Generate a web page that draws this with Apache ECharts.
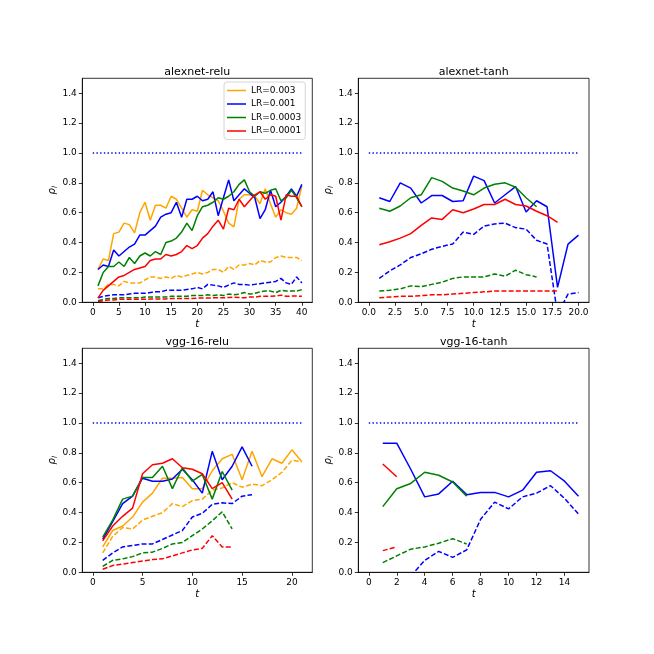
<!DOCTYPE html>
<html><head><meta charset="utf-8">
<script src="https://cdn.jsdelivr.net/npm/echarts@6/dist/echarts.min.js"></script>
<style>html,body{margin:0;padding:0;background:#fff}#c{width:654px;height:654px}</style>
</head><body><div id="c"></div>
<script>
const T = [1,2,3,4,5,6,7,8,9,10,11,12,13,14,15,16,17,18,19,20,21,22,23,24,25,26,27,28,29,30,31,32,33,34,35,36,37,38,39,40];
const LR_NAMES = ['LR=0.003','LR=0.001','LR=0.0003','LR=0.0001'];
const TITLES = ['alexnet-relu','alexnet-tanh','vgg-16-relu','vgg-16-tanh'];

// alexnet-relu
const arOrange = [0.22,0.29,0.28,0.46,0.47,0.53,0.52,0.465,0.60,0.67,0.55,0.65,0.65,0.63,0.71,0.69,0.63,0.57,0.62,0.61,0.75,0.72,0.70,0.68,0.61,0.53,0.505,0.69,0.72,0.72,0.71,0.66,0.76,0.66,0.57,0.62,0.60,0.59,0.63,0.78];
const arOrangeD = [0.09,0.09,0.12,0.12,0.11,0.14,0.13,0.13,0.13,0.15,0.17,0.17,0.16,0.17,0.16,0.18,0.17,0.18,0.19,0.20,0.19,0.20,0.22,0.22,0.20,0.24,0.22,0.25,0.25,0.26,0.25,0.28,0.27,0.27,0.30,0.31,0.30,0.30,0.30,0.28];
const arBlue = [0.22,0.25,0.24,0.35,0.31,0.34,0.37,0.39,0.45,0.45,0.48,0.51,0.57,0.59,0.60,0.67,0.57,0.69,0.69,0.71,0.68,0.69,0.74,0.58,0.70,0.82,0.68,0.72,0.76,0.73,0.70,0.56,0.62,0.75,0.64,0.67,0.71,0.76,0.71,0.79];
const arBlueD = [0.03,0.04,0.045,0.05,0.05,0.05,0.055,0.06,0.06,0.06,0.065,0.07,0.07,0.08,0.08,0.08,0.08,0.085,0.09,0.10,0.09,0.12,0.115,0.11,0.10,0.115,0.13,0.12,0.12,0.115,0.12,0.125,0.13,0.135,0.14,0.16,0.13,0.12,0.17,0.13];
const arGreen = [0.11,0.20,0.24,0.24,0.27,0.24,0.30,0.26,0.31,0.33,0.31,0.34,0.32,0.40,0.41,0.43,0.47,0.53,0.48,0.58,0.64,0.65,0.67,0.70,0.69,0.71,0.74,0.79,0.82,0.74,0.71,0.74,0.73,0.75,0.76,0.68,0.70,0.75,0.70,0.64];
const arGreenD = [0.01,0.02,0.025,0.025,0.03,0.03,0.03,0.03,0.03,0.035,0.035,0.035,0.035,0.035,0.04,0.04,0.04,0.04,0.045,0.045,0.045,0.05,0.045,0.05,0.045,0.055,0.05,0.055,0.065,0.055,0.06,0.07,0.075,0.075,0.065,0.08,0.075,0.075,0.075,0.085];
const arRed = [0.03,0.08,0.11,0.14,0.17,0.18,0.20,0.22,0.23,0.24,0.28,0.29,0.29,0.32,0.31,0.32,0.34,0.38,0.36,0.38,0.43,0.46,0.51,0.55,0.49,0.63,0.62,0.69,0.64,0.68,0.72,0.74,0.69,0.72,0.71,0.55,0.72,0.71,0.71,0.64];
const arRedD = [0.005,0.01,0.015,0.015,0.02,0.02,0.02,0.02,0.02,0.02,0.022,0.022,0.022,0.022,0.025,0.025,0.025,0.025,0.025,0.028,0.028,0.028,0.03,0.03,0.03,0.032,0.035,0.032,0.03,0.035,0.035,0.04,0.04,0.04,0.042,0.048,0.04,0.042,0.042,0.04];

// alexnet-tanh
const atBlue = [0.70,0.675,0.80,0.765,0.665,0.715,0.715,0.675,0.68,0.845,0.815,0.665,0.72,0.775,0.605,0.68,0.64,0.10,0.39,0.45];
const atBlueD = [0.16,0.21,0.25,0.30,0.325,0.355,0.375,0.39,0.47,0.455,0.51,0.525,0.53,0.50,0.49,0.415,0.39,-0.08,0.055,0.065];
const atGreen = [0.63,0.61,0.645,0.70,0.72,0.835,0.81,0.765,0.745,0.72,0.765,0.79,0.80,0.77,0.70,0.64];
const atGreenD = [0.075,0.08,0.09,0.11,0.105,0.12,0.135,0.16,0.17,0.17,0.17,0.19,0.175,0.215,0.185,0.17];
const atRed = [0.385,0.405,0.43,0.46,0.515,0.565,0.555,0.62,0.60,0.625,0.655,0.655,0.69,0.655,0.645,0.61,0.58,0.535];
const atRedD = [0.03,0.035,0.04,0.04,0.045,0.05,0.05,0.055,0.06,0.065,0.07,0.075,0.075,0.075,0.075,0.075,0.075,0.075];

// vgg-16-relu
const vrOrange = [0.17,0.28,0.31,0.37,0.47,0.53,0.63,0.63,0.635,0.56,0.56,0.68,0.76,0.79,0.62,0.81,0.64,0.76,0.73,0.82,0.74];
const vrOrangeD = [0.13,0.24,0.30,0.29,0.35,0.375,0.40,0.46,0.44,0.48,0.49,0.55,0.565,0.60,0.57,0.59,0.58,0.62,0.67,0.75,0.74];
const vrBlue = [0.22,0.34,0.46,0.51,0.63,0.61,0.61,0.625,0.69,0.62,0.53,0.81,0.62,0.71,0.84,0.71];
const vrBlueD = [0.08,0.13,0.17,0.18,0.19,0.19,0.22,0.25,0.28,0.37,0.395,0.455,0.465,0.46,0.51,0.52];
const vrGreen = [0.235,0.35,0.49,0.51,0.635,0.635,0.71,0.56,0.70,0.61,0.655,0.49,0.675,0.55];
const vrGreenD = [0.04,0.08,0.09,0.105,0.13,0.135,0.16,0.19,0.20,0.245,0.29,0.345,0.405,0.29];
const vrRed = [0.21,0.31,0.375,0.43,0.66,0.72,0.73,0.76,0.70,0.69,0.66,0.56,0.60,0.49];
const vrRedD = [0.02,0.045,0.055,0.065,0.075,0.085,0.09,0.11,0.13,0.15,0.16,0.245,0.17,0.17];

// vgg-16-tanh
const vtBlue = [0.865,0.865,0.69,0.505,0.525,0.61,0.52,0.535,0.535,0.505,0.55,0.67,0.68,0.61,0.51];
const vtBlueD = [null,null,-0.025,0.08,0.14,0.10,0.15,0.355,0.47,0.425,0.505,0.53,0.58,0.495,0.39];
const vtGreen = [0.44,0.56,0.595,0.67,0.65,0.605,0.51];
const vtGreenD = [0.065,0.11,0.155,0.17,0.195,0.225,0.19];
const vtRed = [0.725,0.64];
const vtRedD = [0.145,0.17];

// reference line (rho = 1) x-extent per panel
const refY = 1.0;
const refX = [[0,40],[0,20],[0,21],[0,15]];

// tick labels
const xTicks = [
  [0,5,10,15,20,25,30,35,40],
  [0,2.5,5,7.5,10,12.5,15,17.5,20],
  [0,5,10,15,20],
  [0,2,4,6,8,10,12,14]
];
const yTicks = [0,0.2,0.4,0.6,0.8,1.0,1.2,1.4];
const xLim = [[-2,42],[-1,21],[-1.05,22.05],[-0.75,15.75]];
const yLim = [0,1.5];

const COLORS = {o:'#FFA500', b:'#0000FF', g:'#008000', r:'#FF0000'};
const FONT = 'DejaVu Sans';

const grids = [
  {left:82.3, top:78.3, width:230, height:224},
  {left:358.3, top:78.3, width:230.7, height:224},
  {left:82.3, top:348.3, width:230, height:224},
  {left:358.3, top:348.3, width:230.7, height:224}
];

function pts(arr){ return arr.map((v,i)=>[T[i], v]).filter(p=>p[1]!==null); }

const DASH = [5,2.2];
const DOT = [1.4,2.3];
function line(name, gi, arr, color, type){
  return {name:name, type:'line', xAxisIndex:gi, yAxisIndex:gi, data:pts(arr), symbol:'none',
    animation:false, silent:true, clip:true,
    lineStyle:{color:color, width:1.5, type:type}, itemStyle:{color:color}};
}

const series = [];
// panel 0
series.push(line(LR_NAMES[0],0,arOrange,COLORS.o,'solid'));
series.push(line('ar-o-d',0,arOrangeD,COLORS.o,DASH));
series.push(line(LR_NAMES[1],0,arBlue,COLORS.b,'solid'));
series.push(line('ar-b-d',0,arBlueD,COLORS.b,DASH));
series.push(line(LR_NAMES[2],0,arGreen,COLORS.g,'solid'));
series.push(line('ar-g-d',0,arGreenD,COLORS.g,DASH));
series.push(line(LR_NAMES[3],0,arRed,COLORS.r,'solid'));
series.push(line('ar-r-d',0,arRedD,COLORS.r,DASH));
// panel 1
series.push(line('at-b',1,atBlue,COLORS.b,'solid'));
series.push(line('at-b-d',1,atBlueD,COLORS.b,DASH));
series.push(line('at-g',1,atGreen,COLORS.g,'solid'));
series.push(line('at-g-d',1,atGreenD,COLORS.g,DASH));
series.push(line('at-r',1,atRed,COLORS.r,'solid'));
series.push(line('at-r-d',1,atRedD,COLORS.r,DASH));
// panel 2
series.push(line('vr-o',2,vrOrange,COLORS.o,'solid'));
series.push(line('vr-o-d',2,vrOrangeD,COLORS.o,DASH));
series.push(line('vr-b',2,vrBlue,COLORS.b,'solid'));
series.push(line('vr-b-d',2,vrBlueD,COLORS.b,DASH));
series.push(line('vr-g',2,vrGreen,COLORS.g,'solid'));
series.push(line('vr-g-d',2,vrGreenD,COLORS.g,DASH));
series.push(line('vr-r',2,vrRed,COLORS.r,'solid'));
series.push(line('vr-r-d',2,vrRedD,COLORS.r,DASH));
// panel 3
series.push(line('vt-b',3,vtBlue,COLORS.b,'solid'));
series.push(line('vt-b-d',3,vtBlueD,COLORS.b,DASH));
series.push(line('vt-g',3,vtGreen,COLORS.g,'solid'));
series.push(line('vt-g-d',3,vtGreenD,COLORS.g,DASH));
series.push(line('vt-r',3,vtRed,COLORS.r,'solid'));
series.push(line('vt-r-d',3,vtRedD,COLORS.r,DASH));
// reference lines
for (let g=0; g<4; g++){
  series.push({name:'ref'+g, type:'line', xAxisIndex:g, yAxisIndex:g, symbol:'none', animation:false, silent:true,
    data:[[refX[g][0],refY],[refX[g][1],refY]], lineStyle:{color:COLORS.b, width:1.5, type:DOT}});
}

const xAxes = [], yAxes = [];
for (let g=0; g<4; g++){
  xAxes.push({gridIndex:g, type:'value', min:xLim[g][0], max:xLim[g][1],
    axisLine:{show:true, onZero:false, lineStyle:{color:'#000', width:0.8}},
    axisTick:{show:true, customValues:xTicks[g], length:3.5, lineStyle:{color:'#000', width:0.8}},
    axisLabel:{show:true, customValues:xTicks[g], fontSize:9, color:'#000', fontFamily:FONT, margin:5.5,
      formatter: g===1 ? (v=>Number(v).toFixed(1)) : (v=>String(v))},
    splitLine:{show:false},
    name:'t', nameLocation:'middle', nameGap:17,
    nameTextStyle:{fontStyle:'italic', fontSize:10, fontFamily:FONT, color:'#000'}});
  yAxes.push({gridIndex:g, type:'value', min:yLim[0], max:yLim[1],
    axisLine:{show:true, onZero:false, lineStyle:{color:'#000', width:0.8}},
    axisTick:{show:true, customValues:yTicks, length:3.5, lineStyle:{color:'#000', width:0.8}},
    axisLabel:{show:true, customValues:yTicks, fontSize:9, color:'#000', fontFamily:FONT, margin:5.5,
      formatter: v=>Number(v).toFixed(1)},
    splitLine:{show:false},
    name:'{r|ρ}{s|l}', nameLocation:'middle', nameGap:20, nameRotate:90,
    nameTextStyle:{color:'#000', rich:{
      r:{fontSize:10, fontStyle:'italic', fontFamily:FONT, color:'#000'},
      s:{fontSize:7, fontStyle:'italic', fontFamily:FONT, color:'#000', padding:[5,0,0,0]}
    }}});
}

const graphics = [];
for (let g=0; g<4; g++){
  const gr = grids[g];
  graphics.push({type:'text', x: gr.left + gr.width/2, y: gr.top - 6.6, silent:true,
    style:{text:TITLES[g], fill:'#000', fontSize:11, fontFamily:FONT, align:'center', verticalAlign:'middle'}});
  graphics.push({type:'rect', silent:true, z:100,
    shape:{x:gr.left, y:gr.top, width:gr.width, height:gr.height},
    style:{fill:'none', stroke:'#000', lineWidth:0.8}});
}

const chart = echarts.init(document.getElementById('c'), null, {renderer:'canvas'});
chart.setOption({
  animation:false,
  backgroundColor:'#fff',
  grid: grids,
  xAxis: xAxes,
  yAxis: yAxes,
  legend:{show:true, orient:'vertical', left:224, top:82, itemWidth:19, itemHeight:1.5, itemGap:3.5,
    padding:[3.5,4,3.5,3], borderColor:'#cccccc', borderWidth:0.8, borderRadius:3,
    backgroundColor:'rgba(255,255,255,0.8)', selectedMode:false,
    icon:'rect',
    textStyle:{fontSize:9, fontFamily:FONT, color:'#000', lineHeight:10},
    data:LR_NAMES},
  graphic: graphics,
  series: series
});
</script></body></html>
